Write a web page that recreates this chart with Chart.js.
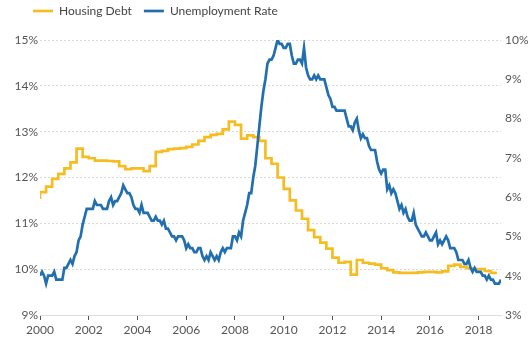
<!DOCTYPE html>
<html><head><meta charset="utf-8">
<script src="https://cdn.jsdelivr.net/npm/chart.js@4.4.1/dist/chart.umd.min.js"></script>
<style>html,body{margin:0;padding:0;background:#fff;}canvas{display:block;}</style>
</head><body>
<canvas id="c" width="531" height="342"></canvas>
<script>
const startYear = 2000;
const seriesNames = ['Housing Debt', 'Unemployment Rate'];
// quarterly, 2000Q1 .. 2018Q4 (%)
const housingDebt = [
  11.53, 11.68, 11.80, 11.97,
  12.08, 12.20, 12.33, 12.63,
  12.45, 12.42, 12.37, 12.37,
  12.36, 12.35, 12.25, 12.18,
  12.20, 12.20, 12.14, 12.25,
  12.56, 12.58, 12.62, 12.63,
  12.64, 12.67, 12.72, 12.80,
  12.88, 12.93, 12.95, 13.05,
  13.22, 13.15, 12.85, 12.92,
  12.88, 12.80, 12.42, 12.30,
  12.00, 11.75, 11.50, 11.28,
  11.10, 10.85, 10.70, 10.58,
  10.45, 10.25, 10.14, 10.16,
   9.88, 10.20, 10.14, 10.12,
  10.10, 10.02,  9.98,  9.93,
   9.92,  9.92,  9.92,  9.93,
   9.94,  9.94,  9.93,  9.95,
  10.07, 10.10, 10.05, 10.02,
  10.00, 10.00,  9.96,  9.92
];
// monthly, Jan 2000 .. Dec 2018 (%)
const unemploymentRate = [
  4.0,4.1,4.0,3.8,4.0,4.0,4.0,4.1,3.9,3.9,3.9,3.9,
  4.2,4.2,4.3,4.4,4.3,4.5,4.6,4.9,5.0,5.3,5.5,5.7,
  5.7,5.7,5.7,5.9,5.8,5.8,5.8,5.7,5.7,5.7,5.9,6.0,
  5.8,5.9,5.9,6.0,6.1,6.3,6.2,6.1,6.1,6.0,5.8,5.7,
  5.7,5.6,5.8,5.6,5.6,5.6,5.5,5.4,5.4,5.5,5.4,5.4,
  5.3,5.4,5.2,5.2,5.1,5.0,5.0,4.9,5.0,5.0,5.0,4.9,
  4.7,4.8,4.7,4.7,4.6,4.6,4.7,4.7,4.5,4.4,4.5,4.4,
  4.6,4.5,4.4,4.5,4.4,4.6,4.7,4.6,4.7,4.7,4.7,5.0,
  5.0,4.9,5.1,5.0,5.4,5.6,5.8,6.1,6.1,6.5,6.8,7.3,
  7.8,8.3,8.7,9.0,9.4,9.5,9.5,9.6,9.8,10.0,9.9,9.9,
  9.8,9.8,9.9,9.9,9.6,9.4,9.4,9.5,9.5,9.4,9.8,9.3,
  9.1,9.0,9.0,9.1,9.0,9.1,9.0,9.0,9.0,8.8,8.6,8.5,
  8.3,8.3,8.2,8.2,8.2,8.2,8.2,8.0,7.8,7.8,7.7,7.9,
  8.0,7.7,7.5,7.6,7.5,7.5,7.3,7.2,7.2,7.2,6.9,6.7,
  6.6,6.7,6.7,6.2,6.3,6.1,6.2,6.1,5.9,5.7,5.8,5.6,
  5.7,5.5,5.4,5.4,5.6,5.3,5.2,5.1,5.0,5.0,5.1,5.0,
  4.9,4.9,5.0,5.1,4.8,4.9,4.8,4.9,5.0,4.9,4.7,4.7,
  4.7,4.6,4.4,4.4,4.4,4.3,4.3,4.4,4.2,4.1,4.2,4.1,
  4.1,4.1,4.0,4.0,3.9,4.0,3.9,3.9,3.8,3.8,3.8,3.9
];
const xTickYears = [2000, 2002, 2004, 2006, 2008, 2010, 2012, 2014, 2016, 2018];
const leftTicks = [9, 10, 11, 12, 13, 14, 15];
const rightTicks = [3, 4, 5, 6, 7, 8, 9, 10];

const housingPts = housingDebt.map((v, i) => ({x: startYear + i / 4, y: v}));
const unempPts = unemploymentRate.map((v, i) => ({x: startYear + i / 12, y: v}));
const xMax = startYear + (unemploymentRate.length - 1) / 12;

Chart.defaults.font.family = 'Lato';
Chart.defaults.font.size = 12;
Chart.defaults.color = '#555';

const legendShift = {
  id: 'legendShift',
  afterLayout(chart) {
    const l = chart.legend;
    l.left += 21; l.right += 21;
    l.top -= 13; l.bottom -= 13;
  }
};

new Chart(document.getElementById('c'), {
  type: 'line',
  data: {
    datasets: [
      {label: seriesNames[0], data: housingPts, yAxisID: 'yL', borderColor: '#f6bd22', backgroundColor: '#f6bd22',
       borderWidth: 2.7, pointRadius: 0, stepped: 'after', order: 1},
      {label: seriesNames[1], data: unempPts, yAxisID: 'yR', borderColor: '#226fb0', backgroundColor: '#226fb0',
       borderWidth: 2.7, pointRadius: 0, tension: 0, order: 0}
    ]
  },
  options: {
    responsive: false,
    animation: false,
    devicePixelRatio: 1,
    layout: {padding: {top: 6, left: 0, right: 0, bottom: 0}},
    plugins: {
      tooltip: {enabled: false},
      legend: {
        position: 'top', align: 'start',
        labels: {
          usePointStyle: true, pointStyle: 'line', pointStyleWidth: 20,
          padding: 12, color: '#444', font: {size: 12},
          sort: (a, b) => a.datasetIndex - b.datasetIndex
        }
      }
    },
    scales: {
      x: {
        type: 'linear', min: startYear, max: xMax,
        afterBuildTicks: s => { s.ticks = xTickYears.map(v => ({value: v})); },
        afterFit: s => { s.height = 27; },
        ticks: {callback: v => String(v), maxRotation: 0, autoSkip: false, padding: 3, color: '#555'},
        grid: {drawOnChartArea: false, drawTicks: true, tickLength: 5, tickColor: '#555', tickWidth: 1},
        border: {display: true, color: '#dedede'}
      },
      yL: {
        position: 'left', min: 9, max: 15,
        afterBuildTicks: s => { s.ticks = leftTicks.map(v => ({value: v})); },
        afterFit: s => { s.width = 40; },
        ticks: {callback: v => v + '%', padding: 2, color: '#555'},
        grid: {color: '#d9d9d9', drawTicks: false},
        border: {display: false, dash: [2, 2]}
      },
      yR: {
        position: 'right', min: 3, max: 10,
        afterBuildTicks: s => { s.ticks = rightTicks.map(v => ({value: v})); },
        afterFit: s => { s.width = 30; },
        ticks: {callback: v => v + '%', padding: 4, color: '#555'},
        grid: {drawOnChartArea: false, drawTicks: false},
        border: {display: false}
      }
    }
  },
  plugins: [legendShift]
});
</script>
</body></html>
